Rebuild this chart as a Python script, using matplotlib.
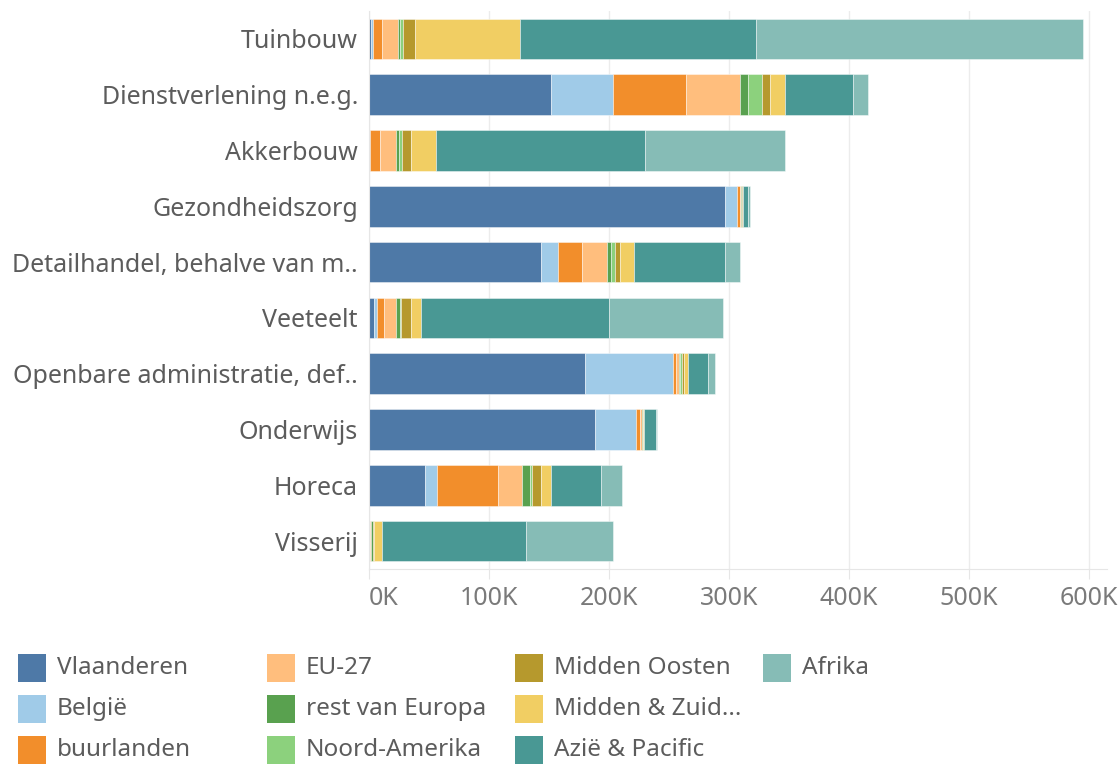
import matplotlib
matplotlib.use("Agg")
import matplotlib.pyplot as plt
from matplotlib.patches import Rectangle
from matplotlib.ticker import FuncFormatter

categories = ["Tuinbouw", "Dienstverlening n.e.g.", "Akkerbouw", "Gezondheidszorg",
              "Detailhandel, behalve van m..", "Veeteelt", "Openbare administratie, def..",
              "Onderwijs", "Horeca", "Visserij"]

series = ["Vlaanderen", "België", "buurlanden", "EU-27", "rest van Europa",
          "Noord-Amerika", "Midden Oosten", "Midden & Zuid...", "Azië & Pacific", "Afrika"]

colors = ["#4e79a7", "#a0cbe8", "#f28e2b", "#ffbe7d", "#59a14f",
          "#8cd17d", "#b6992d", "#f1ce63", "#499894", "#86bcb6"]

# values in thousands, one list per series (order follows categories)
vlaanderen   = [2.0, 152.0, 0.3, 297.0, 143.3, 3.9, 179.8, 188.3, 47.0, 0.5]
belgie       = [1.3, 51.3, 0.2, 10.0, 14.0, 2.8, 73.5, 34.0, 10.0, 0.2]
buurlanden   = [7.5, 60.6, 9.0, 1.9, 20.5, 6.1, 2.3, 3.3, 50.3, 0.3]
eu27         = [13.3, 45.0, 13.3, 1.4, 20.9, 10.0, 2.7, 1.9, 20.2, 0.8]
rest_europa  = [2.0, 6.9, 2.2, 0.5, 3.3, 3.4, 1.2, 0.5, 7.0, 1.5]
noord_am     = [2.2, 12.0, 2.8, 0.3, 3.3, 0.5, 1.3, 0.3, 1.7, 0.3]
midden_oost  = [9.8, 6.7, 7.5, 0.3, 3.6, 8.6, 2.0, 0.3, 7.5, 0.5]
midden_zuid  = [88.1, 12.2, 20.3, 0.5, 11.9, 8.4, 3.0, 0.3, 8.3, 6.7]
azie         = [196.6, 56.6, 174.2, 4.0, 76.2, 156.3, 16.7, 10.4, 41.3, 120.4]
afrika       = [271.9, 12.3, 116.6, 1.4, 11.9, 95.0, 5.6, 1.1, 17.3, 72.1]

values = [vlaanderen, belgie, buurlanden, eu27, rest_europa,
          noord_am, midden_oost, midden_zuid, azie, afrika]

xticks = [0, 100, 200, 300, 400, 500, 600]

plt.rcParams['font.family'] = ['Noto Sans', 'DejaVu Sans']

W, H = 1119, 764
fig = plt.figure(figsize=(W / 100, H / 100), dpi=100)
ax = fig.add_axes([369 / W, 1 - 569 / H, 738 / W, 558 / H])

ypos = list(range(len(categories)))
left = [0.0] * len(categories)
for name, vals, col in zip(series, values, colors):
    ax.barh(ypos, vals, left=left, height=0.73, color=col,
            edgecolor=(1, 1, 1, 0.5), linewidth=0.6, label=name, zorder=2)
    left = [l + v for l, v in zip(left, vals)]

ax.set_ylim(len(categories) - 0.5, -0.5)
ax.set_xlim(0, 615)
ax.set_yticks(ypos)
ax.set_yticklabels(categories, fontsize=18, color="#5c5c5c")
ax.set_xticks(xticks)
ax.xaxis.set_major_formatter(FuncFormatter(lambda v, p: f"{int(v)}K"))
ax.tick_params(axis="x", labelsize=18, labelcolor="#7a7a7a", length=7,
               color="#e6e6e6", pad=5)
ax.tick_params(axis="y", length=0, pad=8)
ax.get_xticklabels()[0].set_horizontalalignment("left")
ax.grid(axis="x", color="#ececec", linewidth=1, zorder=0)
for s in ["top", "right"]:
    ax.spines[s].set_visible(False)
ax.spines["left"].set_color("#e6e6e6")
ax.spines["bottom"].set_color("#e6e6e6")

# legend, column-major, 3 rows
col_x = [18, 267, 515, 763]
row_y = [667.5, 709, 750]
sw = 28
for i, (name, col) in enumerate(zip(series, colors)):
    c, r = divmod(i, 3)
    x0, yc = col_x[c], row_y[r]
    fig.add_artist(Rectangle((x0 / W, 1 - (yc + sw / 2) / H), sw / W, sw / H,
                             transform=fig.transFigure, facecolor=col,
                             edgecolor="none"))
    fig.text((x0 + sw + 11) / W, 1 - yc / H, name, fontsize=17.5,
             color="#5c5c5c", ha="left", va="center")

fig.savefig("out.png", dpi=100)
